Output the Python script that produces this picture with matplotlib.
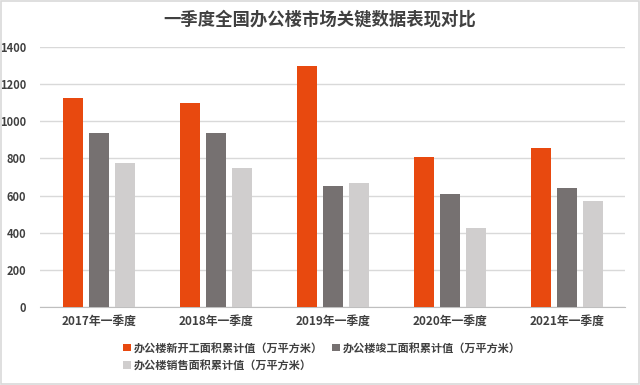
import matplotlib.pyplot as plt
import numpy as np
from matplotlib.patches import Rectangle

plt.rcParams['font.family'] = ['Noto Sans CJK SC', 'DejaVu Sans']

# 数据
categorias = ['2017年一季度', '2018年一季度', '2019年一季度', '2020年一季度', '2021年一季度']
xinkaigong = [1125, 1098, 1298, 808, 856]
jungong = [937, 937, 651, 608, 641]
xiaoshou = [775, 748, 668, 425, 571]
series_names = ['办公楼新开工面积累计值（万平方米）',
                '办公楼竣工面积累计值（万平方米）',
                '办公楼销售面积累计值（万平方米）']
yticks = [0, 200, 400, 600, 800, 1000, 1200, 1400]

# Colores
naranja = '#E8490F'
gris = '#767171'
gris_claro = '#D0CECE'

fig = plt.figure(figsize=(6.4, 3.85), dpi=100)
ax = fig.add_axes([0.063, 0.2026, 0.914, 0.6754])

x = np.arange(len(categorias))
w = 0.175
d = 0.222
b1 = ax.bar(x - d, xinkaigong, w, color=naranja, label=series_names[0], zorder=3)
b2 = ax.bar(x, jungong, w, color=gris, label=series_names[1], zorder=3)
b3 = ax.bar(x + d, xiaoshou, w, color=gris_claro, label=series_names[2], zorder=3)

ax.set_xlim(-0.5, len(categorias) - 0.5)
ax.set_ylim(0, 1400)
ax.set_yticks(yticks)
ax.set_xticks(x)
ax.set_xticklabels(categorias, fontsize=8.5, fontweight='bold', color='#404040')
ax.tick_params(axis='y', labelsize=8, colors='#404040', length=0, pad=10)
ax.tick_params(axis='x', length=0, pad=6)
for lbl in ax.get_yticklabels():
    lbl.set_fontweight('bold')

ax.grid(axis='y', color='#D9D9D9', linewidth=1, zorder=0)
for s in ['top', 'right', 'left']:
    ax.spines[s].set_visible(False)
ax.spines['bottom'].set_color('#BFBFBF')

fig.suptitle('一季度全国办公楼市场关键数据表现对比', x=0.5, y=0.972, fontsize=12.5,
             fontweight='bold', color='#404040')

# Orden por filas: (1, 2) arriba, (3) abajo
fig.legend([b1, b3, b2], [series_names[0], series_names[2], series_names[1]],
           loc='upper left', bbox_to_anchor=(0.185, 0.125), ncol=2, frameon=False,
           prop={'size': 8, 'weight': 'bold'}, handlelength=0.7, handleheight=0.7,
           handletextpad=0.3, columnspacing=0.8, labelspacing=0.4, borderaxespad=0,
           labelcolor='#404040')

# Marco del gráfico
fig.patches.append(Rectangle((0.002, 0.003), 0.996, 0.994, transform=fig.transFigure,
                             fill=False, edgecolor='#D9D9D9', linewidth=1.2))

plt.savefig('out.png', dpi=100)
